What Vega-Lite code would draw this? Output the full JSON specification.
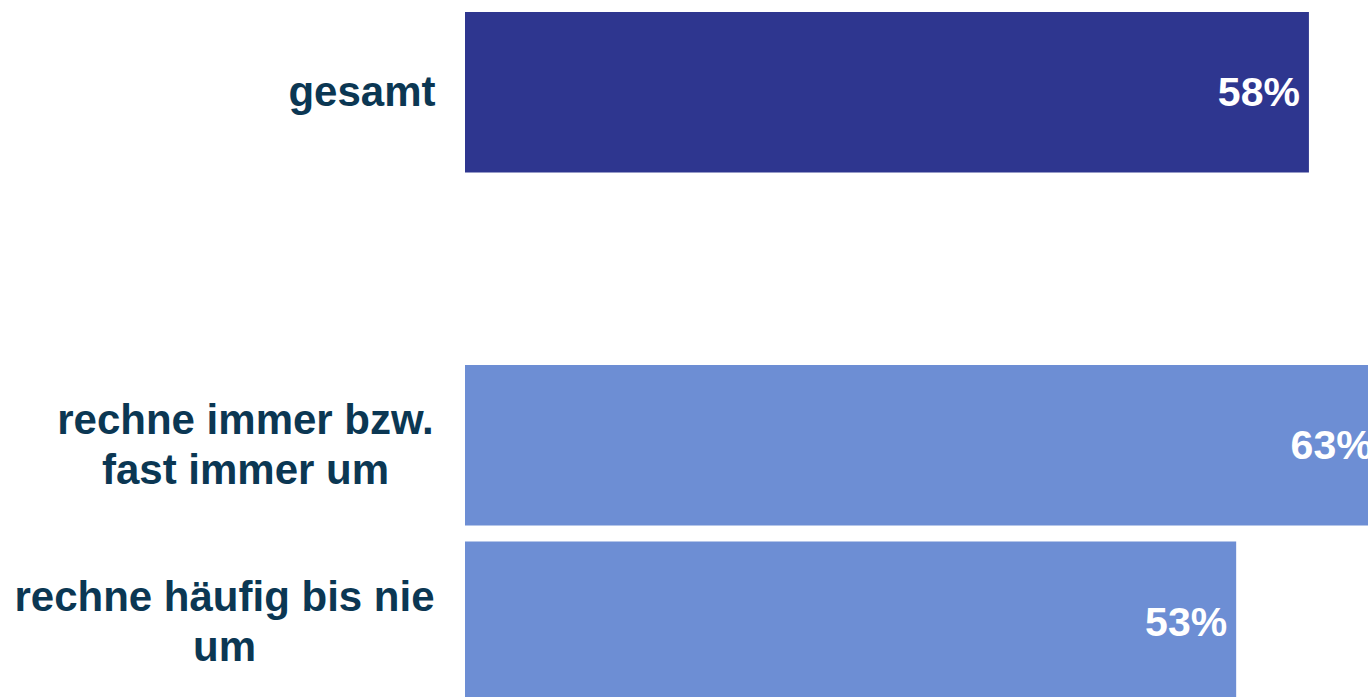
{
  "$schema": "https://vega.github.io/schema/vega-lite/v6.json",
  "autosize": {"type": "none"},
  "padding": {"left": 465, "top": 0, "right": 0, "bottom": 0},
  "width": 903,
  "height": 697,
  "background": "#ffffff",
  "config": {"view": {"stroke": null}},
  "data": {
    "values": [
      {"category": "gesamt", "value": 0.58, "group": "gesamt"},
      {"category": "rechne immer bzw. fast immer um", "value": 0.63, "group": "sub"},
      {"category": "rechne häufig bis nie um", "value": 0.53, "group": "sub"}
    ]
  },
  "encoding": {
    "y": {
      "field": "category",
      "type": "nominal",
      "sort": null,
      "scale": {
        "domain": ["gesamt", " ", "rechne immer bzw. fast immer um", "rechne häufig bis nie um"],
        "range": [12, 702],
        "paddingInner": 0.0907,
        "paddingOuter": 0
      },
      "axis": {
        "title": null,
        "domain": false,
        "ticks": false,
        "grid": false,
        "labelFont": "Liberation Sans",
        "labelFontSize": 42,
        "labelFontWeight": "bold",
        "labelColor": "#0b3753",
        "labelLineHeight": 50,
        "labelLimit": 0,
        "labelBaseline": "middle",
        "labelExpr": "datum.value === 'rechne immer bzw. fast immer um' ? ['rechne immer bzw.', 'fast immer um'] : datum.value === 'rechne häufig bis nie um' ? ['rechne häufig bis nie', 'um'] : datum.value",
        "labelAlign": {"condition": {"test": "datum.value === 'gesamt'", "value": "right"}, "value": "center"},
        "labelOffset": {"condition": {"test": "datum.value === 'gesamt'", "value": 1}, "value": -24},
        "labelPadding": {"condition": [
          {"test": "datum.value === 'gesamt'", "value": 30},
          {"test": "datum.value === 'rechne immer bzw. fast immer um'", "value": 220}
        ], "value": 241}
      }
    },
    "x": {
      "field": "value",
      "type": "quantitative",
      "scale": {"domain": [0, 0.6206], "nice": false, "zero": true},
      "axis": null
    }
  },
  "layer": [
    {
      "mark": {"type": "bar", "clip": true},
      "encoding": {
        "color": {
          "field": "group",
          "type": "nominal",
          "scale": {"domain": ["gesamt", "sub"], "range": ["#2e368f", "#6d8ed4"]},
          "legend": null
        }
      }
    },
    {
      "mark": {
        "type": "text",
        "clip": true,
        "align": "right",
        "baseline": "middle",
        "dx": -9,
        "dy": 2,
        "font": "Liberation Sans",
        "fontSize": 41,
        "fontWeight": "bold",
        "color": "#ffffff"
      },
      "encoding": {
        "text": {"field": "value", "type": "quantitative", "format": ".0%"}
      }
    }
  ]
}
